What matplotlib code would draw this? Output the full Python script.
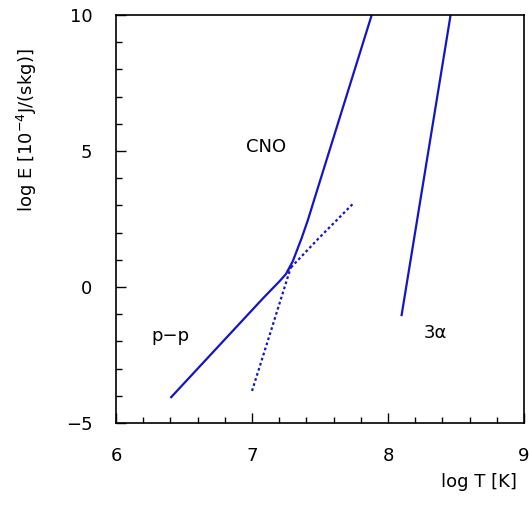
import matplotlib
matplotlib.use('Agg')
import matplotlib.pyplot as plt
from matplotlib.ticker import MultipleLocator

plt.rcParams['font.family'] = ['DejaVu Sans']

# 曲线数据 (log T, log E)
total_logT = [6.40, 7.08, 7.20, 7.25, 7.30, 7.365, 7.41, 7.50, 7.88]
total_logE = [-4.08, -0.42, 0.20, 0.48, 0.95, 1.80, 2.45, 3.90, 10.0]

pp_ext_logT = [7.26, 7.49, 7.74]
pp_ext_logE = [0.58, 1.79, 3.05]

cno_low_logT = [7.00, 7.145, 7.29]
cno_low_logE = [-3.82, -1.52, 0.80]

triple_logT = [8.10, 8.46]
triple_logE = [-1.03, 10.0]

labels = ['CNO', 'p\u2212p', '3\u03b1']
label_x = [7.10, 6.40, 8.35]
label_y = [5.15, -1.80, -1.70]

blue = '#1414c8'

fig = plt.figure(figsize=(5.29, 5.08), dpi=100)
ax = fig.add_axes([0.2193, 0.1673, 0.7713, 0.8031])

ax.plot(total_logT, total_logE, color=blue, lw=1.6, solid_capstyle='butt')
ax.plot(pp_ext_logT, pp_ext_logE, color=blue, lw=1.6, linestyle=(0, (1.2, 1.2)))
ax.plot(cno_low_logT, cno_low_logE, color=blue, lw=1.6, linestyle=(0, (1.2, 1.2)))
ax.plot(triple_logT, triple_logE, color=blue, lw=1.6)

for t, x, y in zip(labels, label_x, label_y):
    ax.text(x, y, t, fontsize=13, ha='center', va='center')

ax.set_xlim(6, 9)
ax.set_ylim(-5, 10)
ax.xaxis.set_major_locator(MultipleLocator(1))
ax.xaxis.set_minor_locator(MultipleLocator(0.2))
ax.yaxis.set_major_locator(MultipleLocator(5))
ax.yaxis.set_minor_locator(MultipleLocator(1))
ax.tick_params(which='both', direction='in', labelsize=13, pad=17, width=1)
ax.tick_params(which='major', length=7)
ax.tick_params(which='minor', length=4)
for s in ax.spines.values():
    s.set_linewidth(1.2)

fig.text(0.977, 1 - 482 / 508, 'log T [K]', fontsize=13, ha='right', va='center')
fig.text(27 / 529, 1 - 130 / 508, 'log E [10$^{-4}$J/(skg)]', fontsize=13,
         rotation=90, ha='center', va='center')

plt.savefig('out.png', dpi=100)
